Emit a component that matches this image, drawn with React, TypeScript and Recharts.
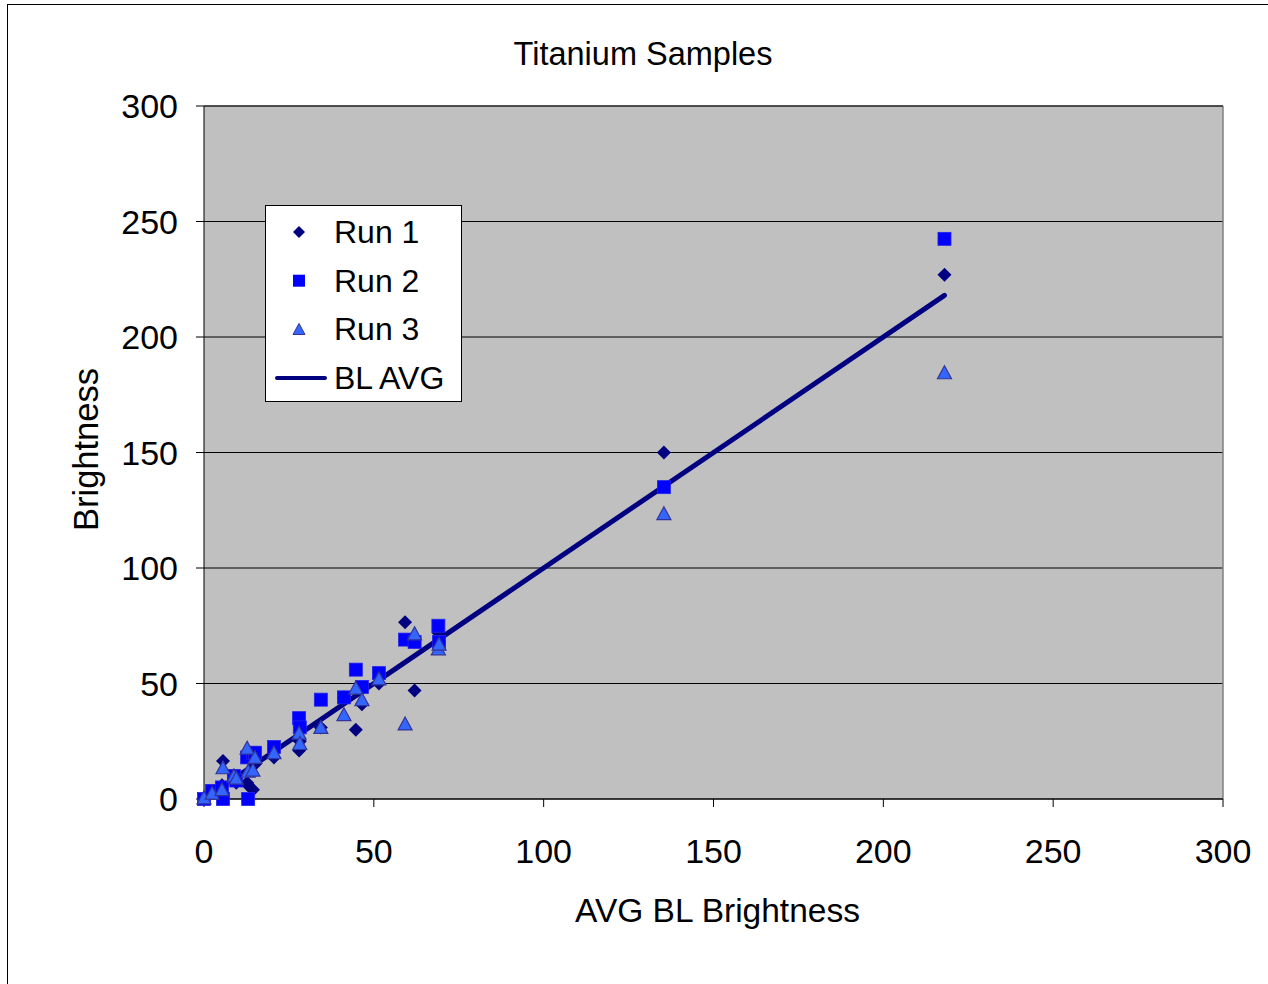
import React from "react";
import {
  ScatterChart,
  Scatter,
  XAxis,
  YAxis,
  CartesianGrid,
  Legend,
  ReferenceLine,
} from "recharts";

// ---- data ----
const avgBL = [0, 2.4, 5.3, 5.6, 8.8, 9.5, 12.7, 13, 14.4, 15, 20.6, 28, 28.2, 34.4, 41.2, 44.7, 46.5, 51.5, 59.2, 62, 69, 69.2, 135.4, 218];
const run1 = [0, 3, 6, 16.5, 9, 7, 7, 6, 4, 15, 18, 21, 25, 31, 44, 30, 41, 50, 76.5, 47, 72, 68, 150, 227];
const run2 = [0, 3.5, 5, 0, 10, 8, 18, 0, 20, 20, 22.5, 35, 31, 43, 44, 56, 48.5, 54.5, 69, 68, 75, 68, 135, 242.5];
const run3 = [0.5, 2.5, 4, 13.5, 10, 9, 22, 12, 12.5, 18, 20, 28.5, 24, 31, 36.5, 48, 43, 52, 32.5, 71.5, 65, 67, 123.5, 184.5];
const blAvgX = [0, 218];
const blAvgY = [0, 218];
const axisTicks = [0, 50, 100, 150, 200, 250, 300];

const seriesNames = ["Run 1", "Run 2", "Run 3", "BL AVG"];

const run1Data = avgBL.map((x, i) => ({ x, y: run1[i] }));
const run2Data = avgBL.map((x, i) => ({ x, y: run2[i] }));
const run3Data = avgBL.map((x, i) => ({ x, y: run3[i] }));
const lineData = blAvgX.map((x, i) => ({ x, y: blAvgY[i] }));

const FONT = "'Liberation Sans', Arial, Helvetica, sans-serif";
const NAVY = "#000080";
const BLUE = "#0000FF";
const TRI_FILL = "#3366FF";
const TRI_STROKE = "#333399";

const diamondPts = (cx: number, cy: number, r: number) =>
  `${cx},${cy - r} ${cx + r},${cy} ${cx},${cy + r} ${cx - r},${cy}`;
const trianglePts = (cx: number, cy: number, r: number) =>
  `${cx},${cy - r} ${cx + r},${cy + r * 0.85} ${cx - r},${cy + r * 0.85}`;

const DiamondShape = (p: any) => (
  <polygon points={diamondPts(p.cx, p.cy, 7)} fill={NAVY} />
);
const SquareShape = (p: any) => (
  <rect x={p.cx - 6.5} y={p.cy - 6.5} width={13} height={13} fill={BLUE} stroke="#2222EE" strokeWidth={0.8} />
);
const TriangleShape = (p: any) => (
  <polygon points={trianglePts(p.cx, p.cy, 7)} fill={TRI_FILL} stroke={TRI_STROKE} strokeWidth={1.2} />
);
const NoShape = () => <g />;

const LegendContent = () => {
  const rowH = 48.7;
  const rows = [0, 1, 2, 3];
  return (
    <div
      style={{
        width: 195,
        height: 195,
        background: "#FFFFFF",
        border: "1px solid #000",
        position: "relative",
        fontFamily: FONT,
        fontSize: 32,
        color: "#000",
      }}
    >
      <svg width={195} height={195} style={{ position: "absolute", left: 0, top: 0 }}>
        {rows.map((i) => {
          const cy = 26 + i * rowH;
          const cx = 33;
          let marker: React.ReactNode = null;
          if (i === 0) marker = <polygon points={diamondPts(cx, cy, 6)} fill={NAVY} />;
          if (i === 1) marker = <rect x={cx - 6} y={cy - 6} width={12} height={12} fill={BLUE} />;
          if (i === 2) marker = <polygon points={trianglePts(cx, cy, 6)} fill={TRI_FILL} stroke={TRI_STROKE} strokeWidth={1} />;
          if (i === 3)
            marker = <line x1={11} x2={59} y1={cy} y2={cy} stroke={NAVY} strokeWidth={4} strokeLinecap="round" />;
          return (
            <g key={i}>
              {marker}
              <text x={68} y={cy} dy="0.34em" fontFamily={FONT} fontSize={32} fill="#000">
                {seriesNames[i]}
              </text>
            </g>
          );
        })}
      </svg>
    </div>
  );
};

const YLabel = (props: any) => {
  const vb = props.viewBox || {};
  const cy = vb.y + vb.height / 2 - 3;
  return (
    <text
      x={86}
      y={cy}
      transform={`rotate(-90, 86, ${cy})`}
      textAnchor="middle"
      dominantBaseline="central"
      fontFamily={FONT}
      fontSize={34.5}
      fill="#000"
    >
      Brightness
    </text>
  );
};

const XLabel = (props: any) => {
  const vb = props.viewBox || {};
  const cx = vb.x + vb.width / 2 + 4;
  return (
    <text x={cx} y={910} textAnchor="middle" dominantBaseline="central" fontFamily={FONT} fontSize={33.5} fill="#000">
      AVG BL Brightness
    </text>
  );
};

export default function App() {
  return (
    <div
      style={{
        position: "absolute",
        left: 0,
        top: 0,
        width: 1268,
        height: 984,
        background: "#FFFFFF",
        overflow: "hidden",
      }}
    >
      <div
        style={{
          position: "absolute",
          left: 7,
          top: 4,
          width: 1270,
          height: 990,
          borderTop: "1px solid #000",
          borderLeft: "1px solid #000",
        }}
      />
      <div
        style={{
          position: "absolute",
          left: 443,
          top: 34,
          width: 400,
          textAlign: "center",
          fontFamily: FONT,
          fontSize: 32.5,
          color: "#000",
          lineHeight: "40px",
        }}
      >
        Titanium Samples
      </div>
      <div style={{ position: "absolute", left: 0, top: 0 }}>
        <ScatterChart
          width={1268}
          height={984}
          margin={{ top: 106, right: 45, bottom: 0, left: 0 }}
        >
          <CartesianGrid
            horizontal={true}
            vertical={false}
            stroke="#000000"
            strokeWidth={1}
            fill="#C0C0C0"
            fillOpacity={1}
          />
          <XAxis
            type="number"
            dataKey="x"
            domain={[0, 300]}
            ticks={axisTicks}
            interval={0}
            height={185}
            tickSize={8}
            tickMargin={32}
            axisLine={{ stroke: "#000", strokeWidth: 1 }}
            tickLine={{ stroke: "#000", strokeWidth: 1 }}
            tick={{ fill: "#000", fontSize: 34, fontFamily: FONT }}
            label={<XLabel />}
          />
          <YAxis
            type="number"
            dataKey="y"
            domain={[0, 300]}
            ticks={axisTicks}
            interval={0}
            width={204}
            tickSize={8}
            tickMargin={18}
            axisLine={{ stroke: "#000", strokeWidth: 1 }}
            tickLine={{ stroke: "#000", strokeWidth: 1 }}
            tick={{ fill: "#000", fontSize: 34, fontFamily: FONT }}
            label={<YLabel />}
          />
          <ReferenceLine x={300} stroke="#808080" strokeWidth={1.5} />
          <ReferenceLine y={300} stroke="#404040" strokeWidth={1.5} />
          <Legend
            layout="vertical"
            align="center"
            verticalAlign="middle"
            content={<LegendContent />}
            wrapperStyle={{ position: "absolute", left: 265, top: 205, width: 197, height: 197 }}
          />
          <Scatter
            name="BL AVG"
            data={lineData}
            line={{ stroke: NAVY, strokeWidth: 5, strokeLinecap: "round" }}
            shape={NoShape}
            isAnimationActive={false}
          />
          <Scatter name="Run 1" data={run1Data} shape={DiamondShape} isAnimationActive={false} />
          <Scatter name="Run 2" data={run2Data} shape={SquareShape} isAnimationActive={false} />
          <Scatter name="Run 3" data={run3Data} shape={TriangleShape} isAnimationActive={false} />
        </ScatterChart>
      </div>
    </div>
  );
}
